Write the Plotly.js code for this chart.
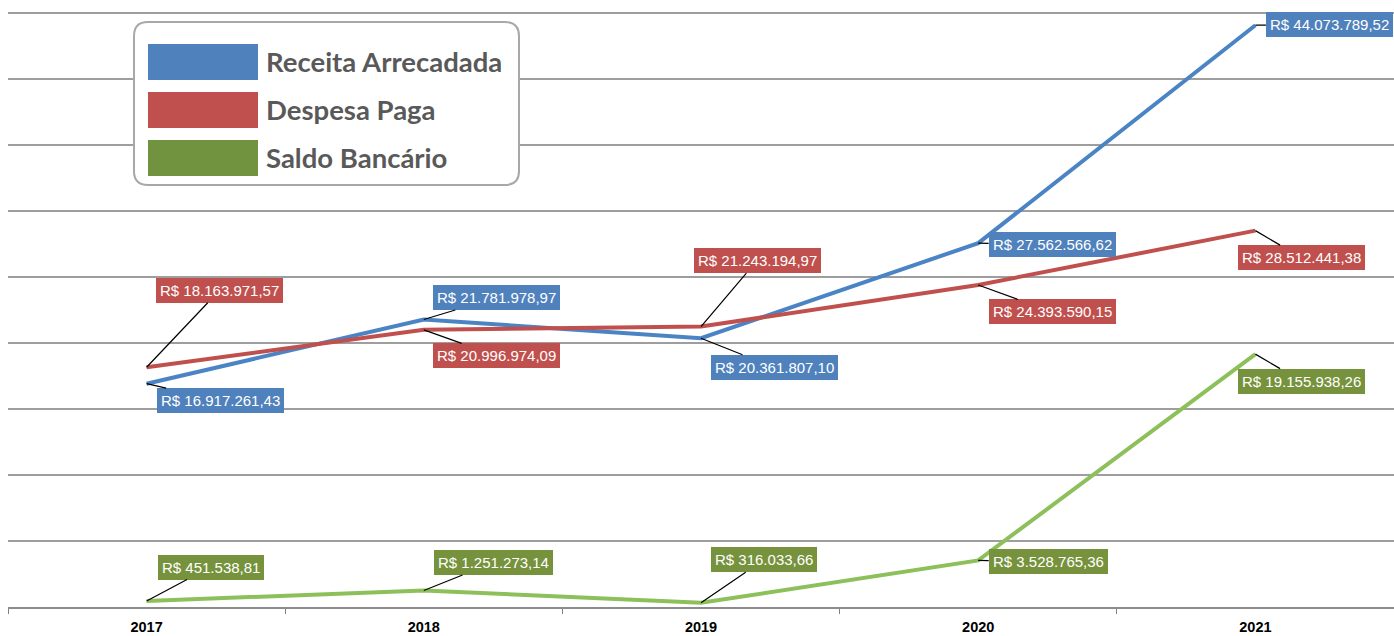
<!DOCTYPE html>
<html><head><meta charset="utf-8">
<script src="https://cdn.plot.ly/plotly-3.0.1.min.js"></script>
<style>html,body{margin:0;padding:0;background:#fff}#c{width:1394px;height:636px}</style>
</head><body><div id="c"></div>
<script>
const years = ['2017','2018','2019','2020','2021'];
const receita = [16917261.43, 21781978.97, 20361807.10, 27562566.62, 44073789.52];
const despesa = [18163971.57, 20996974.09, 21243194.97, 24393590.15, 28512441.38];
const saldo = [451538.81, 1251273.14, 316033.66, 3528765.36, 19155938.26];
const seriesNames = ['Receita Arrecadada', 'Despesa Paga', 'Saldo Bancário'];

// label offsets (pixels) for each series' data labels
const offReceita = [[74,17],[73,-22],[73,29],[74,1],[74,-1]];
const offDespesa = [[73,-77],[73,26],[56,-66],[74,27],[46,27]];
const offSaldo = [[64,-34],[70,-28],[63,-43],[70,1],[46,27]];

const W = 1394, H = 636, M = {l:8, r:0, t:11, b:29};
const pw = W - M.l - M.r, ph = H - M.t - M.b;
const YMAX = 45150000;
const px = x => (x - M.l) / pw;
const py = y => (H - M.b - y) / ph;

function fmt(v){
  const parts = v.toFixed(2).split('.');
  const int = parts[0].replace(/\B(?=(\d{3})+(?!\d))/g, '.');
  return 'R$ ' + int + ',' + parts[1];
}

const lineColors = ['#4A84C4', '#C0504D', '#8DC05A'];
const boxColors = ['#4F81BD', '#C0504D', '#76923C'];
const data = [receita, despesa, saldo];
const offs = [offReceita, offDespesa, offSaldo];

const traces = data.map((d,i) => ({
  x: years, y: d, type: 'scatter', mode: 'lines', name: seriesNames[i],
  line: {color: lineColors[i], width: 4}, showlegend: false, hoverinfo: 'skip'
}));

const annotations = [];
data.forEach((d,i) => {
  d.forEach((v,j) => {
    annotations.push({
      x: j, y: v, xref: 'x', yref: 'y', text: fmt(v),
      showarrow: true, arrowhead: 0, arrowwidth: 1.2, arrowcolor: '#000',
      ax: offs[i][j][0], ay: offs[i][j][1],
      bgcolor: boxColors[i], borderpad: 4, borderwidth: 0,
      font: {family: 'Liberation Sans, Arial, sans-serif', size: 15, color: '#fff'}
    });
  });
});

// legend (drawn manually)
const shapes = [];
const L = {x0:134, x1:519, y0:22, y1:185, r:14};
const pth = [
  'M', px(L.x0+L.r), py(L.y0),
  'L', px(L.x1-L.r), py(L.y0),
  'Q', px(L.x1), py(L.y0), px(L.x1), py(L.y0+L.r),
  'L', px(L.x1), py(L.y1-L.r),
  'Q', px(L.x1), py(L.y1), px(L.x1-L.r), py(L.y1),
  'L', px(L.x0+L.r), py(L.y1),
  'Q', px(L.x0), py(L.y1), px(L.x0), py(L.y1-L.r),
  'L', px(L.x0), py(L.y0+L.r),
  'Q', px(L.x0), py(L.y0), px(L.x0+L.r), py(L.y0), 'Z'
];
let s = '';
for (let k=0;k<pth.length;k++){
  const t = pth[k];
  if (typeof t === 'string') s += t + ' ';
  else { s += t.toFixed(5) + (typeof pth[k+1] === 'number' ? ',' : ' '); }
}
shapes.push({type:'path', xref:'paper', yref:'paper', path: s.trim(),
  line:{color:'#A8A8A8', width:2}, fillcolor:'#FFFFFF', layer:'above'});
const legendSw = ['#4F81BD', '#C0504D', '#71923F'];
const rowY = [62, 110, 158];
seriesNames.forEach((n,i) => {
  shapes.push({type:'rect', xref:'paper', yref:'paper', x0: px(148), x1: px(258),
    y0: py(rowY[i]+18), y1: py(rowY[i]-18), fillcolor: legendSw[i], line:{width:0}, layer:'above'});
  annotations.push({xref:'paper', yref:'paper', x: px(264), y: py(rowY[i]), xanchor:'left', yanchor:'middle',
    text: '<b>'+n+'</b>', showarrow:false,
    font:{family:'Lato, sans-serif', size:27.5, color:'#595959'}});
});

const layout = {
  width: W, height: H, margin: M, paper_bgcolor:'#fff', plot_bgcolor:'#fff',
  xaxis: {type:'category', range:[-0.5,4.5], tickson:'boundaries', ticks:'outside', ticklen:5,
    tickcolor:'#808080', showgrid:false, showline:true, linecolor:'#8C8C8C', linewidth:2,
    ticklabelstandoff: 6,
    tickfont:{family:'Liberation Sans, Arial, sans-serif', size:14.5, color:'#000', weight:'bold'},
    zeroline:false, fixedrange:true},
  yaxis: {range:[0,YMAX], tick0:0, dtick:5000000, showgrid:true, gridcolor:'#9E9E9E', gridwidth:1.5,
    showticklabels:false, zeroline:false, showline:false, fixedrange:true},
  shapes: shapes, annotations: annotations, showlegend:false
};
Plotly.newPlot('c', traces, layout, {displayModeBar:false, staticPlot:true});
</script></body></html>
